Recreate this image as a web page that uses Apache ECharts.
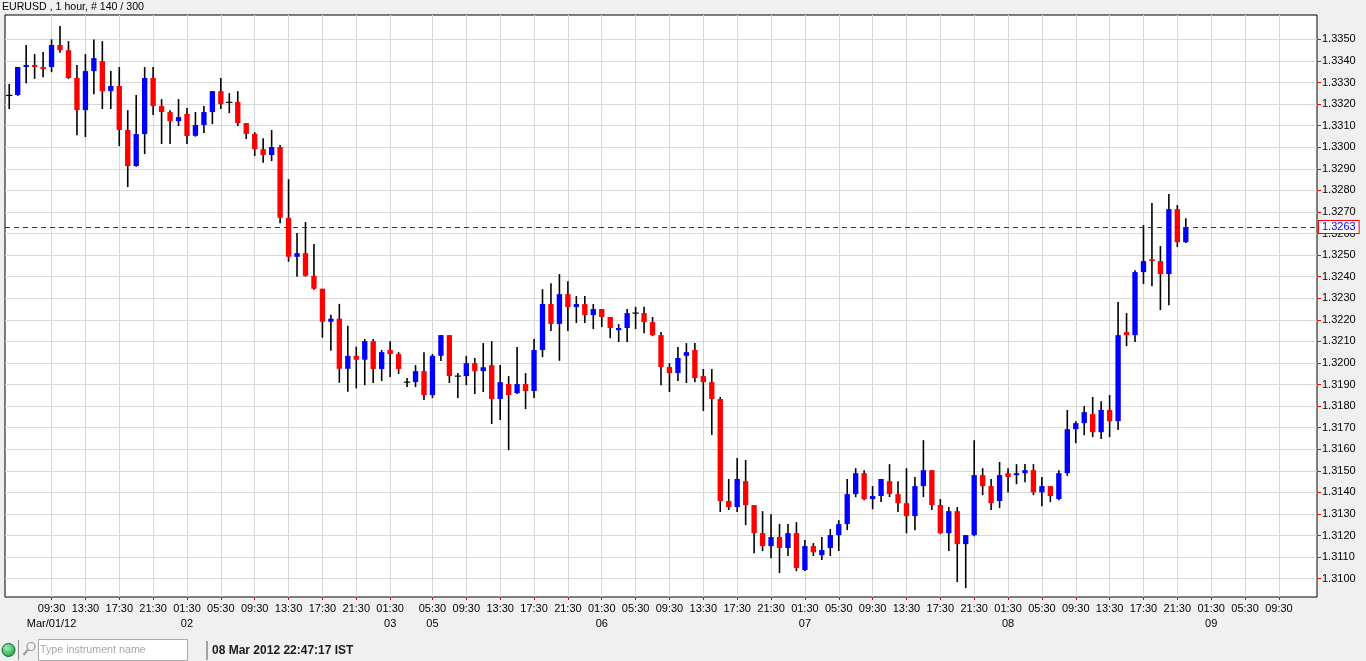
<!DOCTYPE html>
<html lang="en">
<head>
<meta charset="utf-8">
<title>EURUSD 1 hour</title>
<style>
  html, body { margin: 0; padding: 0; background: #f0f0f0; }
  #chart { width: 1366px; height: 661px; }
</style>
<script src="https://cdn.jsdelivr.net/npm/echarts@6.0.0/dist/echarts.min.js"></script>
</head>
<body>
<div id="chart"></div>
<script>
const symbolTitle = "EURUSD , 1 hour, # 140 / 300";
const statusTime = "08 Mar 2012 22:47:17 IST";
const searchPlaceholder = "Type instrument name";
const currentPrice = 1.3263;

// sessions: date caption, first and last bar hour (bars open at hh:30 IST)
const sessions = [
  ["Mar/01/12", 4, 23],
  ["02", 0, 23],
  ["03", 0, 2],
  ["05", 2, 23],
  ["06", 0, 23],
  ["07", 0, 23],
  ["08", 0, 23],
  ["09", 0, 13],
];
const labelHours = [1, 5, 9, 13, 17, 21];
const priceTicks = [
  1.3100, 1.3110, 1.3120, 1.3130, 1.3140, 1.3150, 1.3160, 1.3170, 1.3180, 1.3190,
  1.3200, 1.3210, 1.3220, 1.3230, 1.3240, 1.3250, 1.3260, 1.3270, 1.3280, 1.3290,
  1.3300, 1.3310, 1.3320, 1.3330, 1.3340, 1.3350,
];

const openPrices = [
  1.3324, 1.33242, 1.33372, 1.33381, 1.33372, 1.33372, 1.33474, 1.3345, 1.33321, 1.33172,
  1.33353, 1.33399, 1.3326, 1.33284, 1.3308, 1.32913, 1.33061, 1.33321, 1.33191, 1.33163,
  1.33121, 1.33154, 1.33053, 1.33103, 1.33163, 1.3326, 1.33208, 1.3321, 1.33112, 1.33062,
  1.32991, 1.32964, 1.33001, 1.32673, 1.32492, 1.32509, 1.32404, 1.32344, 1.32191, 1.32205,
  1.31973, 1.32033, 1.32015, 1.32101, 1.31972, 1.3206, 1.32041, 1.31911, 1.31911, 1.31962,
  1.31851, 1.32033, 1.32129, 1.31939, 1.31939, 1.31999, 1.31962, 1.3199, 1.31833, 1.31902,
  1.3186, 1.31902, 1.3187, 1.3206, 1.32273, 1.32181, 1.32319, 1.32259, 1.32273, 1.32222,
  1.3225, 1.32213, 1.32152, 1.32162, 1.32231, 1.32231, 1.32189, 1.32129, 1.31981, 1.31953,
  1.32033, 1.3206, 1.31939, 1.31911, 1.31833, 1.3136, 1.31332, 1.31452, 1.31341, 1.31211,
  1.31151, 1.31193, 1.31142, 1.31211, 1.3104, 1.31151, 1.31109, 1.31142, 1.31202, 1.31253,
  1.31392, 1.31489, 1.31369, 1.31383, 1.31452, 1.31392, 1.3135, 1.3129, 1.31429, 1.31503,
  1.31341, 1.31211, 1.31313, 1.3116, 1.31202, 1.3148, 1.31429, 1.3136, 1.31489, 1.3148,
  1.31489, 1.31503, 1.3140, 1.31429, 1.31369, 1.31489, 1.31693, 1.31721, 1.31763, 1.31679,
  1.31782, 1.3173, 1.32143, 1.32129, 1.32421, 1.32481, 1.32472, 1.32412, 1.32713, 1.3256,
];
const closePrices = [
  1.3324, 1.33372, 1.33381, 1.33372, 1.33362, 1.33474, 1.3345, 1.33321, 1.33172, 1.33353,
  1.33413, 1.3326, 1.33284, 1.3308, 1.32913, 1.33061, 1.33321, 1.33191, 1.33163, 1.33121,
  1.3314, 1.33052, 1.33103, 1.33163, 1.3326, 1.332, 1.33208, 1.33112, 1.33062, 1.32991,
  1.32964, 1.33001, 1.32673, 1.32492, 1.32509, 1.32404, 1.32344, 1.32191, 1.32205, 1.31973,
  1.32033, 1.32015, 1.32101, 1.31972, 1.3205, 1.32041, 1.31972, 1.31911, 1.31962, 1.31851,
  1.32033, 1.32129, 1.31939, 1.31939, 1.31999, 1.31962, 1.3198, 1.31833, 1.31911, 1.31851,
  1.31902, 1.3187, 1.3206, 1.32273, 1.32181, 1.32319, 1.32259, 1.32273, 1.32222, 1.3225,
  1.32213, 1.32162, 1.32162, 1.32231, 1.32231, 1.32189, 1.32129, 1.31981, 1.31953, 1.32023,
  1.3205, 1.3193, 1.31911, 1.31833, 1.3136, 1.31332, 1.31462, 1.31341, 1.31211, 1.31151,
  1.31193, 1.31142, 1.31211, 1.31049, 1.31151, 1.31122, 1.31133, 1.31202, 1.31253, 1.31392,
  1.31489, 1.31369, 1.31383, 1.31462, 1.31392, 1.3135, 1.3129, 1.31429, 1.31503, 1.31341,
  1.31211, 1.31313, 1.3116, 1.31202, 1.3148, 1.31429, 1.3135, 1.3148, 1.31471, 1.31489,
  1.31503, 1.3140, 1.31429, 1.31383, 1.31489, 1.31693, 1.31721, 1.31772, 1.31679, 1.31782,
  1.3173, 1.32129, 1.32129, 1.32421, 1.32472, 1.32472, 1.32412, 1.32713, 1.3256, 1.3263,
];
const lowPrices = [
  1.33177, 1.33238, 1.33297, 1.33317, 1.33325, 1.33348, 1.33438, 1.33317, 1.33056, 1.33047,
  1.33246, 1.33177, 1.33177, 1.33005, 1.32815, 1.3291, 1.32968, 1.33149, 1.33015, 1.33015,
  1.33098, 1.33015, 1.33049, 1.33066, 1.33107, 1.33177, 1.33158, 1.33098, 1.33038, 1.32959,
  1.32928, 1.32936, 1.32648, 1.32469, 1.3240, 1.3240, 1.32339, 1.32117, 1.32056, 1.31908,
  1.31866, 1.31882, 1.31897, 1.31907, 1.31916, 1.31935, 1.31949, 1.31888, 1.31888, 1.31828,
  1.31837, 1.32009, 1.31907, 1.31837, 1.31897, 1.31856, 1.31865, 1.31717, 1.31735, 1.31596,
  1.31856, 1.31786, 1.31837, 1.32027, 1.32148, 1.3201, 1.32148, 1.32185, 1.32185, 1.32157,
  1.32166, 1.32115, 1.32097, 1.32097, 1.32157, 1.32138, 1.32124, 1.31897, 1.31865, 1.31916,
  1.31907, 1.31911, 1.31777, 1.31666, 1.31309, 1.31318, 1.31309, 1.31248, 1.31118, 1.31128,
  1.31095, 1.31026, 1.31105, 1.31035, 1.31035, 1.31105, 1.31086, 1.31105, 1.31128, 1.31225,
  1.31378, 1.31364, 1.31322, 1.31355, 1.31378, 1.31309, 1.3121, 1.31225, 1.31378, 1.31318,
  1.31206, 1.31128, 1.30984, 1.30956, 1.31197, 1.31387, 1.31318, 1.31327, 1.3140, 1.31438,
  1.31447, 1.31387, 1.31336, 1.31355, 1.31364, 1.31476, 1.31628, 1.31665, 1.31656, 1.31647,
  1.31656, 1.31689, 1.32078, 1.32097, 1.32366, 1.32356, 1.32245, 1.32268, 1.32537, 1.32556,
];
const highPrices = [
  1.33293, 1.33372, 1.33474, 1.33432, 1.33441, 1.3350, 1.33562, 1.33492, 1.33381, 1.33432,
  1.3350, 1.33492, 1.33353, 1.33372, 1.33172, 1.33242, 1.33372, 1.33372, 1.33223, 1.33172,
  1.33223, 1.33182, 1.33163, 1.33191, 1.3326, 1.33321, 1.33251, 1.3326, 1.33112, 1.3307,
  1.33042, 1.3308, 1.3301, 1.32852, 1.32602, 1.32653, 1.32551, 1.32344, 1.32223, 1.32274,
  1.32172, 1.32075, 1.32111, 1.32111, 1.3206, 1.32101, 1.3205, 1.3193, 1.3199, 1.3205,
  1.32041, 1.32129, 1.32129, 1.31953, 1.32033, 1.32023, 1.32092, 1.32101, 1.3199, 1.31939,
  1.32074, 1.31953, 1.32111, 1.32342, 1.3237, 1.32412, 1.32379, 1.3231, 1.3231, 1.32273,
  1.3225, 1.32213, 1.3218, 1.3225, 1.3226, 1.3226, 1.32213, 1.32143, 1.31999, 1.32074,
  1.32092, 1.32092, 1.31972, 1.31972, 1.31842, 1.31462, 1.31559, 1.3155, 1.31341, 1.31313,
  1.31299, 1.31253, 1.31253, 1.31262, 1.31179, 1.31165, 1.31193, 1.3123, 1.31271, 1.31462,
  1.31512, 1.31503, 1.31429, 1.31462, 1.31531, 1.31452, 1.31512, 1.31471, 1.31642, 1.31503,
  1.31369, 1.31332, 1.31332, 1.31202, 1.31642, 1.31512, 1.31462, 1.31541, 1.31512, 1.31531,
  1.31531, 1.31531, 1.31471, 1.31429, 1.31503, 1.31782, 1.3173, 1.318, 1.31842, 1.31823,
  1.31851, 1.32282, 1.32231, 1.3243, 1.32639, 1.32741, 1.32542, 1.32783, 1.32732, 1.32671,
];

const BULL_COLOR = "#0000ff";
const BEAR_COLOR = "#ff0000";
const GRID_COLOR = "#d8d8d8";
const FONT = "'Liberation Sans', Arial, sans-serif";
// bars this close to either border carry no time label
const EDGE_BARS = 4;

const categories = [];
const hourOfBar = [];
const sessionOfBar = [];
sessions.forEach(([caption, fromHour, toHour], s) => {
  for (let hour = fromHour; hour <= toHour; hour++) {
    categories.push(`${caption} ${String(hour).padStart(2, "0")}:30`);
    hourOfBar.push(hour);
    sessionOfBar.push(s);
  }
});

const timeText = [];
const captionText = [];
const captionDone = new Set();
hourOfBar.forEach((hour, i) => {
  const shown = labelHours.includes(hour) && i >= EDGE_BARS && i < categories.length - 1;
  timeText.push(shown ? `${String(hour).padStart(2, "0")}:30` : "");
  const s = sessionOfBar[i];
  if (shown && !captionDone.has(s)) {
    captionText.push(sessions[s][0]);
    captionDone.add(s);
  } else {
    captionText.push("");
  }
});

const candles = openPrices.map((open, i) => [i, open, closePrices[i], lowPrices[i], highPrices[i]]);

function isLabelBar(index) {
  return timeText[index] !== "";
}

function isCaptionBar(index) {
  return captionText[index] !== "";
}

function renderCandle(params, api) {
  const index = api.value(0);
  const open = api.value(1);
  const close = api.value(2);
  const openPoint = api.coord([index, open]);
  const closePoint = api.coord([index, close]);
  const lowPoint = api.coord([index, api.value(3)]);
  const highPoint = api.coord([index, api.value(4)]);
  const x = openPoint[0];
  const bodyWidth = api.size([1, 0])[0] * 0.63;
  const children = [
    {
      type: "line",
      shape: { x1: x, y1: highPoint[1], x2: x, y2: lowPoint[1] },
      style: { stroke: "#000000", lineWidth: 1.6 },
    },
  ];
  if (open === close) {
    children.push({
      type: "line",
      shape: { x1: x - bodyWidth / 2 - 0.5, y1: openPoint[1], x2: x + bodyWidth / 2 + 0.5, y2: openPoint[1] },
      style: { stroke: "#000000", lineWidth: 1.2 },
    });
  } else {
    const top = Math.min(openPoint[1], closePoint[1]);
    const height = Math.max(Math.abs(openPoint[1] - closePoint[1]), 1.2);
    children.push({
      type: "rect",
      shape: { x: x - bodyWidth / 2, y: top, width: bodyWidth, height },
      style: { fill: close > open ? BULL_COLOR : BEAR_COLOR },
    });
  }
  return { type: "group", children };
}

const chart = echarts.init(document.getElementById("chart"));

chart.setOption({
  animation: false,
  backgroundColor: "#f0f0f0",
  textStyle: { fontFamily: FONT },
  grid: {
    left: 5,
    right: 49,
    top: 15,
    bottom: 64,
    outerBoundsMode: "none",
    show: true,
    backgroundColor: "#ffffff",
    borderColor: "#000000",
    borderWidth: 1,
  },
  xAxis: [
    {
      type: "category",
      data: categories,
      boundaryGap: true,
      axisLine: { show: false },
      axisTick: {
        show: true,
        alignWithLabel: true,
        interval: isLabelBar,
        length: 3,
        lineStyle: { color: "#ff0000" },
      },
      axisLabel: {
        interval: isLabelBar,
        formatter: (value, index) => timeText[index],
        color: "#000000",
        fontFamily: FONT,
        fontSize: 11,
        margin: 6,
      },
      splitLine: {
        show: true,
        alignWithLabel: true,
        interval: isLabelBar,
        lineStyle: { color: GRID_COLOR, width: 1 },
      },
    },
    {
      type: "category",
      data: categories,
      position: "bottom",
      boundaryGap: true,
      axisLine: { show: false },
      axisTick: { show: false },
      splitLine: { show: false },
      axisLabel: {
        interval: isCaptionBar,
        showMinLabel: true,
        hideOverlap: false,
        formatter: (value, index) => captionText[index],
        color: "#000000",
        fontFamily: FONT,
        fontSize: 11,
        margin: 21,
      },
    },
  ],
  yAxis: {
    type: "value",
    position: "right",
    min: 1.30915,
    max: 1.33613,
    scale: true,
    axisLine: { show: false },
    axisTick: {
      show: true,
      length: 4,
      customValues: priceTicks,
      lineStyle: { color: "#ff0000" },
    },
    axisLabel: {
      customValues: priceTicks,
      formatter: (value) => value.toFixed(4),
      color: "#000000",
      fontFamily: FONT,
      fontSize: 11,
      margin: 5,
    },
    splitLine: { show: true, lineStyle: { color: GRID_COLOR, width: 1 } },
  },
  series: [
    {
      type: "custom",
      renderItem: renderCandle,
      data: candles,
      encode: { x: 0, y: [1, 2, 3, 4] },
      clip: true,
      silent: true,
      markLine: {
        silent: true,
        symbol: "none",
        precision: 4,
        animation: false,
        lineStyle: { color: "#1a1aff", type: [5, 4], width: 1 },
        label: {
          show: true,
          position: "end",
          distance: 2,
          formatter: currentPrice.toFixed(4),
          color: "#0000ff",
          fontFamily: FONT,
          fontSize: 11,
          backgroundColor: "#ffffff",
          borderColor: "#ff0000",
          borderWidth: 1,
          padding: [1, 3, 0, 3],
        },
        data: [{ yAxis: currentPrice }],
      },
    },
  ],
  graphic: [
    {
      type: "text",
      left: 2,
      top: 2,
      style: { text: symbolTitle, fill: "#000000", font: `10.6px ${FONT}` },
    },
    {
      type: "circle",
      shape: { cx: 8.5, cy: 650, r: 6.5 },
      style: {
        fill: new echarts.graphic.RadialGradient(0.4, 0.35, 0.75, [
          { offset: 0, color: "#9ff0b4" },
          { offset: 1, color: "#129338" },
        ]),
        stroke: "#0c6a2a",
        lineWidth: 1,
      },
    },
    { type: "line", shape: { x1: 18.5, y1: 640, x2: 18.5, y2: 660 }, style: { stroke: "#8c8c8c", lineWidth: 1 } },
    {
      type: "circle",
      shape: { cx: 31, cy: 646.5, r: 4 },
      style: { fill: "#f4f4f4", stroke: "#9a9a9a", lineWidth: 1.2 },
    },
    { type: "line", shape: { x1: 28, y1: 649.5, x2: 23.5, y2: 655 }, style: { stroke: "#9a9a9a", lineWidth: 2 } },
    {
      type: "rect",
      shape: { x: 38.5, y: 639.5, width: 149, height: 21 },
      style: { fill: "#ffffff", stroke: "#a9a9a9", lineWidth: 1 },
    },
    {
      type: "text",
      x: 40,
      y: 650,
      style: { text: searchPlaceholder, fill: "#a8a8a8", font: `10.7px ${FONT}`, textVerticalAlign: "middle" },
    },
    { type: "line", shape: { x1: 207, y1: 641, x2: 207, y2: 660 }, style: { stroke: "#555555", lineWidth: 1 } },
    {
      type: "text",
      x: 212,
      y: 651,
      style: { text: statusTime, fill: "#1a1a1a", font: `bold 12px ${FONT}`, textVerticalAlign: "middle" },
    },
  ],
});
</script>
</body>
</html>
